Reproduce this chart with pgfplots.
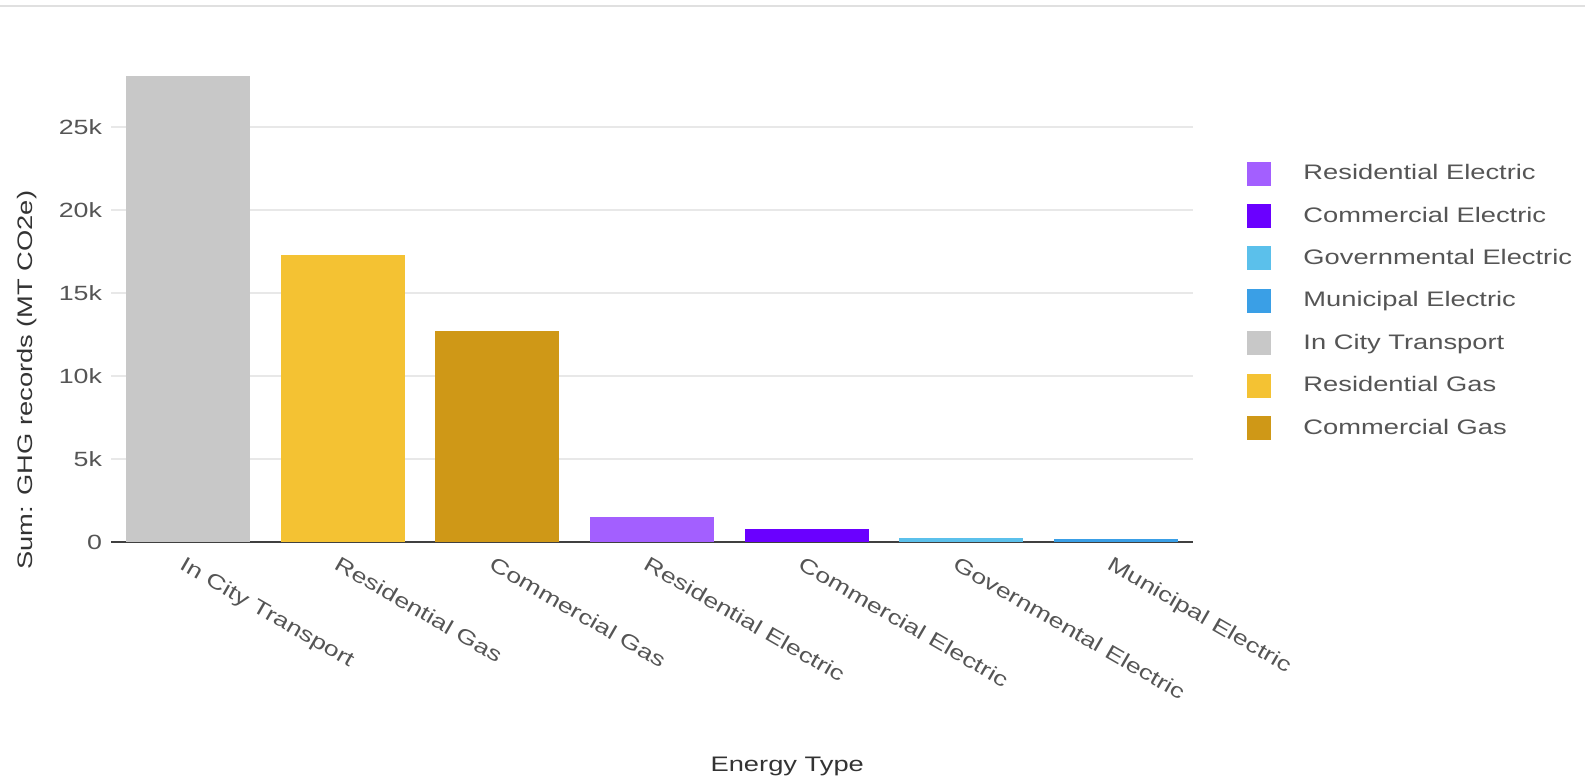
\documentclass[border=0pt]{standalone}
\usepackage{pgfplots}
\pgfplotsset{compat=1.18}
\usepackage{fontspec}
\setmainfont{Liberation Sans}[FakeStretch=1.3]
\definecolor{resel}{HTML}{A35FFF}
\definecolor{comel}{HTML}{6A00FF}
\definecolor{govel}{HTML}{5BC0EB}
\definecolor{munel}{HTML}{3A9FE6}
\definecolor{transp}{HTML}{C8C8C8}
\definecolor{resgas}{HTML}{F4C233}
\definecolor{comgas}{HTML}{CF9817}
\definecolor{txt}{HTML}{555555}
\definecolor{ttl}{HTML}{333333}
\begin{document}
\begin{tikzpicture}
\useasboundingbox (0,0) rectangle (792.5pt,391pt);
\draw[black!12, line width=1.2pt] (0,388pt) -- (792.5pt,388pt);
\begin{axis}[
  at={(55.5pt,120pt)}, anchor=south west,
  scale only axis, width=541pt, height=249pt,
  xmin=-0.5, xmax=6.5, ymin=0, ymax=30000,
  scaled y ticks=false,
  ybar, bar width=62pt, bar shift=0pt,
  axis x line*=bottom, axis y line*=left,
  x axis line style={draw=black!75, line width=1pt},
  y axis line style={draw=none},
  major tick length=0pt,
  ymajorgrids, major grid style={draw=black!9, line width=0.6pt},
  ytick={0,5000,10000,15000,20000,25000},
  yticklabels={0,5k,10k,15k,20k,25k},
  xtick={0,1,2,3,4,5,6},
  xticklabels={In City Transport,Residential Gas,Commercial Gas,Residential Electric,Commercial Electric,Governmental Electric,Municipal Electric},
  tick label style={font=\fontsize{10.3}{12}\selectfont, text=txt},
  yticklabel style={xshift=-1pt},
  xticklabel style={rotate=-30, anchor=north west, xshift=-1pt, yshift=-3pt},
  xlabel={Energy Type},
  ylabel={Sum: GHG records (MT CO2e)},
  label style={font=\fontsize{10.5}{12}\selectfont, text=ttl},
  xlabel style={at={(axis description cs:0.625,-0.45)}, anchor=center},
  ylabel style={at={(axis description cs:-0.0776,0.325)}, anchor=center},
  legend style={at={(1.05,0.767)}, anchor=north west, draw=none, fill=none,
    inner sep=0pt, row sep=8.1pt, font=\fontsize{10.5}{12}\selectfont, text=txt},
  legend cell align=left,
  legend image code/.code={\path[draw=none,fill=none] (0pt,0pt) -- (26pt,0pt); \fill[#1] (0pt,-6pt) rectangle (12pt,6pt);},
]
\addplot[fill=resel, draw=none] coordinates {(3,1530)};
\addlegendentry{Residential Electric}
\addplot[fill=comel, draw=none] coordinates {(4,770)};
\addlegendentry{Commercial Electric}
\addplot[fill=govel, draw=none] coordinates {(5,270)};
\addlegendentry{Governmental Electric}
\addplot[fill=munel, draw=none] coordinates {(6,210)};
\addlegendentry{Municipal Electric}
\addplot[fill=transp, draw=none] coordinates {(0,28100)};
\addlegendentry{In City Transport}
\addplot[fill=resgas, draw=none] coordinates {(1,17300)};
\addlegendentry{Residential Gas}
\addplot[fill=comgas, draw=none] coordinates {(2,12700)};
\addlegendentry{Commercial Gas}
\end{axis}
\end{tikzpicture}
\end{document}
